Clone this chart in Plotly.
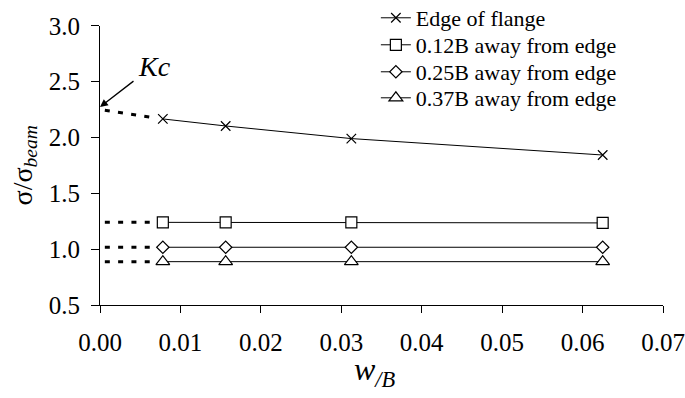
import plotly.graph_objects as go

# Data
w_over_B = [0.0078125, 0.015625, 0.03125, 0.0625]
edge_vals = [2.166, 2.103, 1.99, 1.843]
b012_vals = [1.24, 1.24, 1.24, 1.235]
b025_vals = [1.017, 1.017, 1.017, 1.017]
b037_vals = [0.888, 0.888, 0.888, 0.888]
series_names = ["Edge of flange", "0.12B away from edge", "0.25B away from edge", "0.37B away from edge"]

# Extrapolation toward w/B = 0 (dotted)
ext_x = [0.0006, 0.0062]
edge_ext = [2.244, 2.183]
b012_ext = [1.24, 1.24]
b025_ext = [1.017, 1.017]
b037_ext = [0.888, 0.888]

kc_value = 2.273
x_ticks = [0.00, 0.01, 0.02, 0.03, 0.04, 0.05, 0.06, 0.07]
y_ticks = [0.5, 1.0, 1.5, 2.0, 2.5, 3.0]

FONT = "Liberation Serif, Times New Roman, serif"
fig = go.Figure()

for ex, ey in [(ext_x, edge_ext), (ext_x, b012_ext), (ext_x, b025_ext), (ext_x, b037_ext)]:
    fig.add_trace(go.Scatter(x=ex, y=ey, mode="lines", showlegend=False, hoverinfo="skip",
                             line=dict(color="black", width=3, dash="5px,8.3px")))

specs = [
    (edge_vals, "x-thin", 9.5, "black"),
    (b012_vals, "square", 11, "white"),
    (b025_vals, "diamond", 9.5, "white"),
    (b037_vals, "triangle-up", 12, "white"),
]
legend_ids = ["legend", "legend2", "legend3", "legend4"]
for name, (vals, sym, size, fill), lid in zip(series_names, specs, legend_ids):
    fig.add_trace(go.Scatter(
        x=w_over_B, y=vals, mode="lines+markers", name=name, legend=lid,
        line=dict(color="black", width=1),
        marker=dict(symbol=sym, size=size, color=fill, line=dict(color="black", width=1.2)),
    ))

# Kc arrow and label
fig.add_annotation(x=0, y=kc_value, xref="x", yref="y", ax=0.00435, ay=2.515, axref="x", ayref="y",
                   text="", showarrow=True, arrowhead=2, arrowsize=1.2, arrowwidth=1.3, arrowcolor="black")
fig.add_annotation(x=0.0068, y=2.64, xref="x", yref="y", text="<i>Kc</i>", showarrow=False,
                   font=dict(family=FONT, size=28, color="black"))

# Axis titles
fig.add_annotation(x=-0.135, y=0.5, xref="paper", yref="y domain", text="σ/σ<sub><i>beam</i></sub>",
                   textangle=-90, showarrow=False, xanchor="center", yanchor="middle",
                   font=dict(family=FONT, size=28, color="black"))
fig.add_annotation(x=0.488, y=-0.22, xref="paper", yref="paper", text="<i>w</i><sub><i>/B</i></sub>",
                   showarrow=False, xanchor="center", yanchor="middle",
                   font=dict(family=FONT, size=32, color="black"))

leg_font = dict(family=FONT, size=22, color="black")
leg_common = dict(x=0.49, xanchor="left", yanchor="middle", bgcolor="rgba(0,0,0,0)",
                  font=leg_font, itemwidth=30)
fig.update_layout(
    width=685, height=398,
    margin=dict(l=100, r=22, t=4, b=93, autoexpand=False),
    paper_bgcolor="white", plot_bgcolor="white",
    font=dict(family=FONT, color="black"),
    legend=dict(y=0.9535, **leg_common),
    legend2=dict(y=0.8638, **leg_common),
    legend3=dict(y=0.7741, **leg_common),
    legend4=dict(y=0.6877, **leg_common),
    showlegend=True,
)
fig.update_xaxes(range=[0, 0.07], tickvals=x_ticks, ticktext=[f"{v:.2f}" for v in x_ticks],
                 showline=True, linecolor="black", linewidth=1, ticks="outside", ticklen=7,
                 tickcolor="black", showgrid=False, zeroline=False, automargin=False,
                 ticklabelstandoff=8,
                 tickfont=dict(family=FONT, size=25, color="black"))
fig.update_yaxes(range=[0.5, 3.0], tickvals=y_ticks, ticktext=[f"{v:.1f}" for v in y_ticks],
                 domain=[0, 0.9276],
                 showline=True, linecolor="black", linewidth=1, ticks="outside", ticklen=8,
                 tickcolor="black", showgrid=False, zeroline=False, automargin=False,
                 ticklabelstandoff=6,
                 tickfont=dict(family=FONT, size=25, color="black"))

fig.write_html("out.html", config={"displayModeBar": False},
               post_script="document.body.style.margin='0px';")
